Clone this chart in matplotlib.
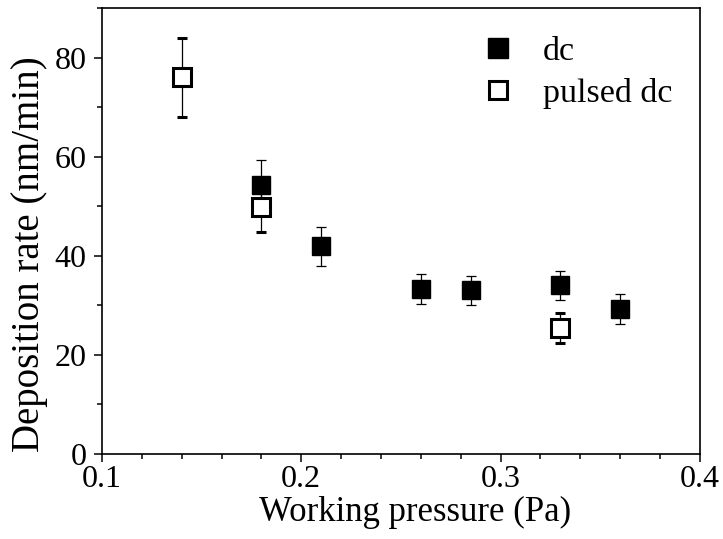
import numpy as np
import matplotlib.pyplot as plt
from matplotlib.lines import Line2D
from matplotlib.ticker import MultipleLocator

plt.rcParams['font.family'] = ['Liberation Serif', 'DejaVu Serif']

# dc sputtering
dc_p = [0.18, 0.21, 0.26, 0.285, 0.33, 0.36]
dc_rate = [54.3, 41.9, 33.3, 33.0, 34.0, 29.3]
dc_err = [5.0, 3.9, 3.0, 3.0, 3.0, 3.0]

# pulsed dc sputtering
pdc_p = [0.14, 0.18, 0.33]
pdc_rate = [76.0, 49.8, 25.4]
pdc_err = [8.0, 5.0, 3.0]

fig = plt.figure(figsize=(7.23, 5.39), dpi=100)
ax = fig.add_axes([0.141, 0.158, 0.827, 0.827])

ax.errorbar(dc_p, dc_rate, yerr=dc_err, fmt='s', color='black', ms=13.5,
            mfc='black', mec='black', ecolor='black', elinewidth=0.9,
            capsize=3.3, capthick=0.9, zorder=2)
ax.errorbar(pdc_p, pdc_rate, yerr=pdc_err, fmt='s', color='black', ms=13.5,
            mfc='white', mec='black', mew=2.2, ecolor='black', elinewidth=0.9,
            capsize=3.3, capthick=0.9, zorder=3)

ax.set_xlim(0.1, 0.4)
ax.set_ylim(0, 90)
ax.set_xticks([0.1, 0.2, 0.3, 0.4])
ax.set_xticklabels(['0.1', '0.2', '0.3', '0.4'])
ax.xaxis.set_minor_locator(MultipleLocator(0.02))
ax.yaxis.set_major_locator(MultipleLocator(20))
ax.yaxis.set_minor_locator(MultipleLocator(10))

ax.tick_params(which='both', direction='out', top=False, right=False,
               labelsize=23, width=1.1)
ax.tick_params(which='major', length=6)
ax.tick_params(axis='x', which='major', pad=2)
ax.tick_params(axis='y', which='major', pad=5)
ax.tick_params(which='minor', length=3.5)
for s in ax.spines.values():
    s.set_linewidth(1.2)

ax.set_xlabel('Working pressure (Pa)', fontsize=25)
ax.set_ylabel('Deposition rate (nm/min)', fontsize=28)
ax.xaxis.set_label_coords(0.523, -0.095)
ax.yaxis.set_label_coords(-0.09, 0.448)

handles = [
    Line2D([], [], ls='none', marker='s', ms=14, mfc='black', mec='black'),
    Line2D([], [], ls='none', marker='s', ms=13.5, mfc='white', mec='black', mew=2.2),
]
ax.legend(handles, ['dc', 'pulsed dc'], loc='upper right', frameon=False,
          fontsize=24.5, handletextpad=0.33, labelspacing=0.32,
          borderaxespad=0.3, bbox_to_anchor=(0.994, 0.99))

fig.savefig('out.png', dpi=100)
